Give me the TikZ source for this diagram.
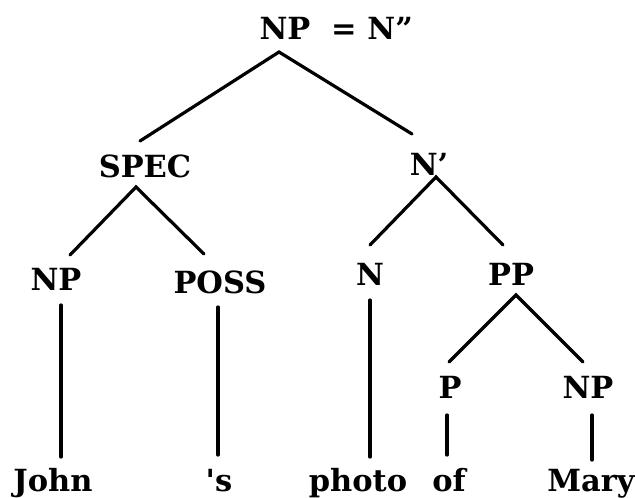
\documentclass[tikz,border=0pt]{standalone}
\usepackage{fontspec}
\setmainfont{DejaVu Serif}
\begin{document}
\begin{tikzpicture}[x=1pt,y=-1pt,
  lab/.style={font=\bfseries\fontsize{30.5}{35}\selectfont, anchor=base, inner sep=0pt},
  br/.style={line width=3.2pt, line cap=round}]
\useasboundingbox[fill=white] (0,0) rectangle (635,498);
% category nodes
\node[lab] (top)  at (285,39)  {NP};
\node[lab, anchor=base west] (topeq) at (331,39) {= N”};
\node[lab] (spec) at (145,177) {SPEC};
\node[lab] (nbar) at (429,175) {N’};
\node[lab] (np1)  at (56,290)  {NP};
\node[lab] (poss) at (220,293) {POSS};
\node[lab] (n)    at (370,285) {N};
\node[lab] (pp)   at (511,285) {PP};
\node[lab] (p)    at (450,398) {P};
\node[lab] (np2)  at (588,398) {NP};
% words
\node[lab] (john)  at (53,491)  {John};
\node[lab] (poss2) at (219,491) {\textquotesingle s};
\node[lab] (photo) at (358,491) {photo};
\node[lab] (of)    at (449,491) {of};
\node[lab] (mary)  at (591,491) {Mary};
% branches
\draw[br] ([xshift=-17pt,yshift=41pt]nbar.base) -- ([xshift=-6pt,yshift=-13pt]top.base) -- ([xshift=-5pt,yshift=36pt]spec.base);
\draw[br] ([xshift=14pt,yshift=35pt]np1.base) -- ([xshift=-9pt,yshift=-10pt]spec.base) -- ([xshift=-16pt,yshift=39pt]poss.base);
\draw[br] ([yshift=40pt]n.base) -- ([xshift=7pt,yshift=-2pt]nbar.base) -- ([xshift=-8pt,yshift=40pt]pp.base);
\draw[br] ([xshift=-1pt,yshift=36pt]p.base) -- ([xshift=5pt,yshift=-10pt]pp.base) -- ([xshift=-5pt,yshift=36pt]np2.base);
% vertical lines
\draw[br] ([xshift=5pt,yshift=-15pt]np1.base) -- ([xshift=8pt,yshift=34pt]john.base);
\draw[br] ([xshift=-2pt,yshift=-14pt]poss.base) -- ([xshift=-1pt,yshift=36pt]poss2.base);
\draw[br] ([yshift=-15pt]n.base) -- ([xshift=12pt,yshift=34pt]photo.base);
\draw[br] ([xshift=-3pt,yshift=-17pt]p.base) -- ([xshift=-2pt,yshift=36pt]of.base);
\draw[br] ([xshift=4pt,yshift=-17pt]np2.base) -- ([xshift=1pt,yshift=31pt]mary.base);
\end{tikzpicture}
\end{document}
